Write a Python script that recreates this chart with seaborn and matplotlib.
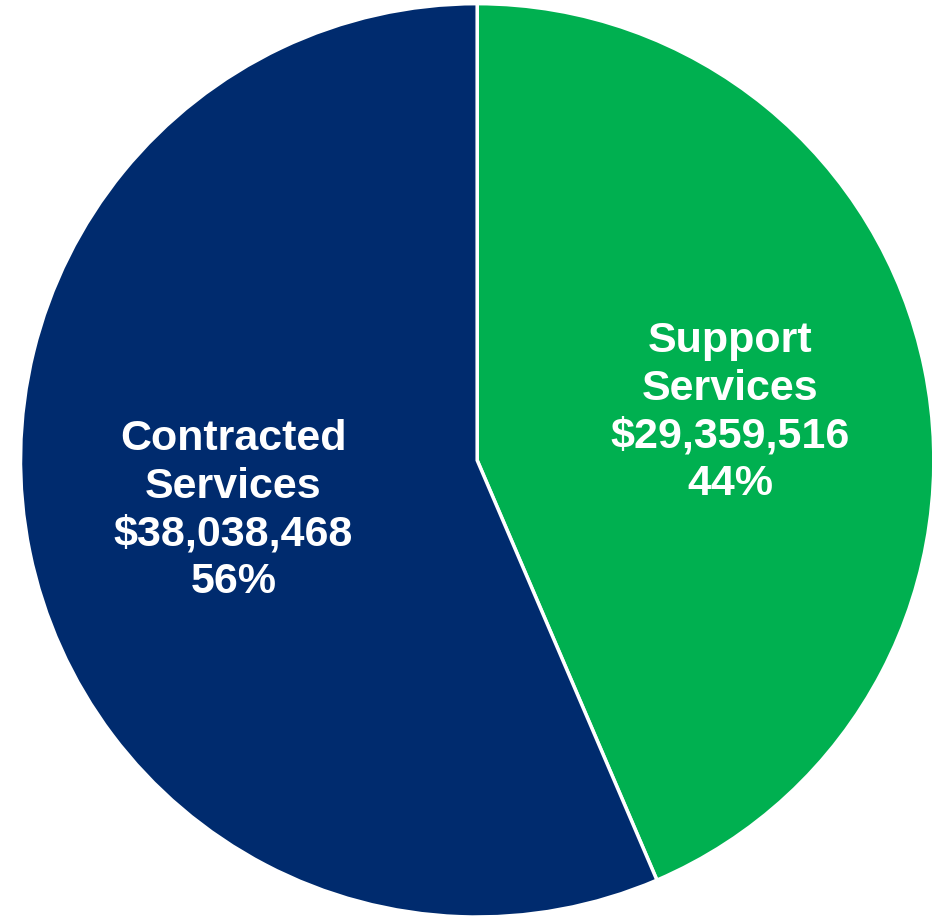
import matplotlib
matplotlib.use("Agg")
import matplotlib.pyplot as plt
import seaborn as sns

categories = ["Support\nServices", "Contracted\nServices"]
amounts = [29359516, 38038468]
colors = ["#00B050", "#002B6E"]

sns.set_theme(style="white")
plt.rcParams['font.family'] = ['Liberation Sans', 'DejaVu Sans']

fig = plt.figure(figsize=(9.32, 9.17), dpi=100)
ax = fig.add_axes([0.022, 0.0, 0.98, 0.996])

total = sum(amounts)
wedges, _ = ax.pie(amounts, colors=colors, startangle=90, counterclock=False,
                   radius=1, wedgeprops=dict(edgecolor="white", linewidth=2.5))

label_pos = [(0.554, 0.105), (-0.534, -0.11)]
for cat, amt, (x, y) in zip(categories, amounts, label_pos):
    pct = round(amt / total * 100)
    ax.text(x, y, f"{cat}\n${amt:,}\n{pct}%", ha="center", va="center",
            color="white", fontsize=31, fontweight="bold", linespacing=1.24)

ax.set_xlim(-1, 1)
ax.set_ylim(-1, 1)
ax.set_aspect("equal")
ax.axis("off")
fig.savefig("out.png", dpi=100, facecolor="white")
